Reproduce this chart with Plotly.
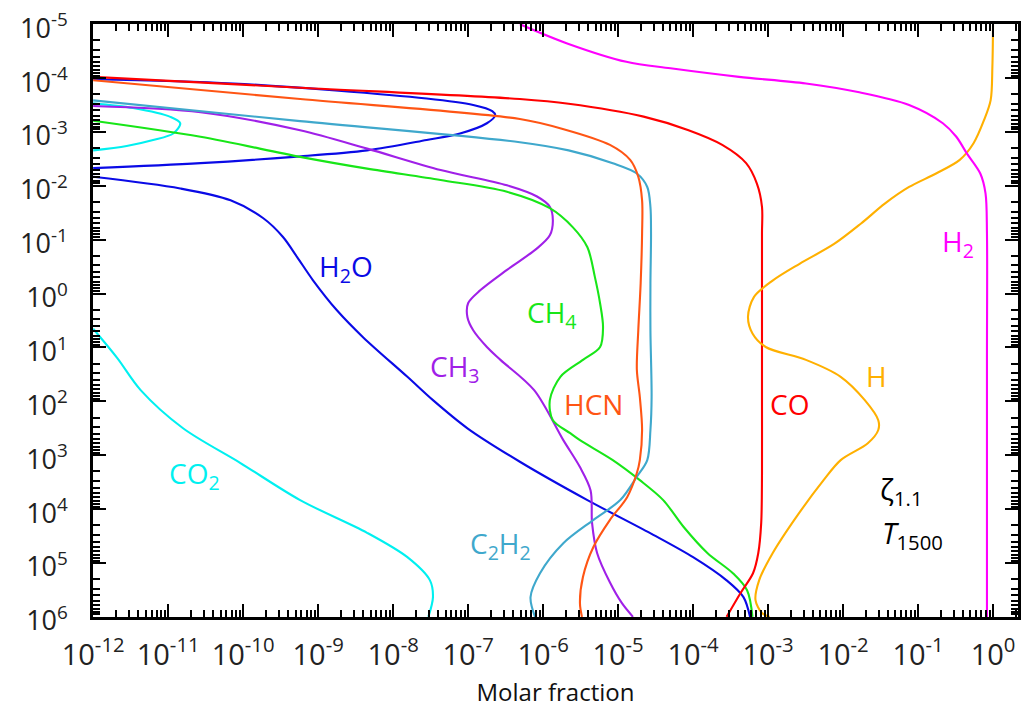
import plotly.graph_objects as go

# ---- data: molar fraction (x) vs pressure (y) ----
co_x = [1e-12, 5.75e-10, 4.9e-7, 2.19e-6, 2.19e-5, 8.7e-5, 2.45e-4, 5.1e-4, 7.1e-4, 8.3e-4,
        8.3e-4, 8.3e-4, 8.3e-4, 8.3e-4, 8.1e-4, 7.4e-4, 6.3e-4, 4.3e-4, 2.8e-4]
co_p = [9.5e-5, 1.51e-4, 2.45e-4, 3.0e-4, 5.2e-4, 9.3e-4, 1.74e-3, 3.8e-3, 9.1e-3, 2.45e-2,
        7.6e-2, 1.32, 126, 2190, 1.82e4, 6.6e4, 1.55e5, 3.6e5, 1e6]

hcn_x = [1e-12, 5.75e-10, 4.9e-7, 1.78e-6, 7.8e-6, 1.45e-5, 1.86e-5, 2.09e-5, 2.09e-5, 2.0e-5,
         1.86e-5, 1.78e-5, 1.95e-5, 2.09e-5, 1.95e-5, 1.78e-5, 1.32e-5, 7.8e-6, 4.7e-6, 3.4e-6,
         3.1e-6, 3.3e-6]
hcn_p = [1.1e-4, 2.45e-4, 5.75e-4, 8.7e-4, 1.74e-3, 3.3e-3, 6.8e-3, 1.86e-2, 7.6e-2, 0.65,
         4.8, 26, 83, 340, 1230, 2140, 6000, 1.58e4, 5.0e4, 1.82e5,
         5.5e5, 1e6]

c2h2_x = [1e-12, 5.75e-10, 4.9e-7, 2.19e-6, 8.5e-6, 1.78e-5, 2.45e-5, 2.7e-5, 2.75e-5, 2.7e-5,
          2.7e-5, 2.8e-5, 2.7e-5, 2.45e-5, 1.78e-5, 1.07e-5, 4.7e-6, 1.86e-6, 9.1e-7, 6.8e-7, 7.8e-7]
c2h2_p = [2.6e-4, 6.3e-4, 1.55e-3, 2.2e-3, 3.8e-3, 5.9e-3, 1.05e-2, 2.45e-2, 7.6e-2, 0.65,
          4.8, 83, 340, 1230, 2500, 6800, 1.58e4, 4.3e4, 1.55e5, 4.3e5, 1e6]

h2o_x = [1e-12, 7.4e-11, 2.8e-8, 1.17e-7, 2.1e-7, 2.3e-7, 1.78e-7, 7.8e-8, 2.8e-8, 4.5e-9,
         4.7e-10, 2.7e-11, 1e-12, None,
         1e-12, 1.45e-11, 6.8e-11, 1.86e-10, 3.4e-10, 5.25e-10, 8.5e-10, 1.78e-9, 4.0e-9, 1.55e-8,
         3.4e-8, 9.8e-8, 4.9e-7, 3.9e-6, 2.95e-5, 1.0e-4, 2.8e-4, 4.7e-4, 5.75e-4]
h2o_p = [1.05e-4, 1.26e-4, 2.4e-4, 3.16e-4, 4.1e-4, 4.9e-4, 6.9e-4, 1.07e-3, 1.41e-3, 2.2e-3,
         2.9e-3, 3.8e-3, 4.7e-3, None,
         6.8e-3, 1.12e-2, 1.86e-2, 4.0e-2, 8.9e-2, 0.21, 0.56, 2.04, 6.5, 35,
         95, 316, 1320, 6800, 3.0e4, 7.8e4, 2.1e5, 4.3e5, 1e6]

ch3_x = [1e-12, 2.7e-11, 5.75e-10, 4.5e-9, 4.3e-8, 3.3e-7, 8.3e-7, 1.23e-6, 1.35e-6, 1.23e-6,
         8.3e-7, 3.3e-7, 1.45e-7, 1.0e-7, 9.8e-8, 1.17e-7, 1.78e-7, 2.7e-7, 7.6e-7, 1.86e-6,
         3.1e-6, 4.3e-6, 4.5e-6, 5.25e-6, 7.8e-6, 1.12e-5, 1.58e-5]
ch3_p = [3.3e-4, 4.3e-4, 9.3e-4, 2.04e-3, 5.1e-3, 9.8e-3, 1.58e-2, 2.45e-2, 4.4e-2, 8.3e-2,
         0.145, 0.363, 0.87, 1.51, 2.75, 4.8, 9.8, 17, 62, 525,
         1660, 4500, 1.82e4, 6.5e4, 2.3e5, 5.5e5, 1e6]

ch4_x = [1e-12, 2.7e-11, 5.75e-10, 4.5e-9, 4.3e-8, 3.3e-7, 1.23e-6, 2.5e-6, 3.9e-6, 4.9e-6,
         5.75e-6, 6.3e-6, 5.75e-6, 3.4e-6, 1.7e-6, 1.23e-6, 1.35e-6, 2.3e-6, 3.1e-6, 8.5e-6,
         1.95e-5, 4.0e-5, 7.4e-5, 1.55e-4, 3.4e-4, 5.25e-4, 6.2e-4]
ch4_p = [6.2e-4, 1.23e-3, 2.9e-3, 4.8e-3, 7.8e-3, 1.29e-2, 2.6e-2, 5.9e-2, 0.138, 0.49,
         1.51, 4.2, 9.8, 17, 35, 95, 224, 390, 525, 1230,
         2900, 6800, 2.1e4, 6.5e4, 1.55e5, 3.2e5, 1e6]

co2_x = [1e-12, 3.4e-12, 1.07e-11, 1.45e-11, 1.17e-11, 6.3e-12, 2.8e-12, 1e-12, None,
         1e-12, 2.1e-12, 4.3e-12, 1.58e-11, 9.1e-11, 5.75e-10, 4.5e-9, 1.55e-8, 3.1e-8, 3.4e-8, 2.95e-8]
co2_p = [2.95e-4, 3.6e-4, 5.25e-4, 6.9e-4, 1.07e-3, 1.41e-3, 1.82e-3, 2.2e-3, None,
         4.5, 15.8, 62, 316, 1380, 6800, 2.75e4, 7.8e4, 2.1e5, 4.3e5, 1e6]

h_x = [1.0, 0.98, 0.93, 0.76, 0.55, 0.36, 0.174, 7.6e-2, 3.6e-2, 1.74e-2,
       7.6e-3, 2.63e-3, 1.15e-3, 6.5e-4, 5.4e-4, 6.2e-4, 9.3e-4, 3.2e-3, 9.3e-3, 1.95e-2,
       2.95e-2, 2.95e-2, 2.14e-2, 9.3e-3, 5.5e-3, 2.4e-3, 1.15e-3, 7.6e-4, 6.8e-4, 8.3e-4, 1.05e-3]
h_p = [1e-5, 6.2e-5, 2.57e-4, 6.0e-4, 1.62e-3, 3.3e-3, 5.9e-3, 1.05e-2, 2.14e-2, 5.0e-2,
       0.12, 0.28, 0.575, 1.15, 2.7, 5.5, 9.8, 17, 35, 95,
       224, 340, 600, 1230, 2900, 1.38e4, 6.6e4, 2.1e5, 4.9e5, 8.5e5, 1e6]

h2_x = [4.9e-7, 2.14e-6, 1.29e-5, 5.0e-5, 4.1e-4, 3.2e-3, 1.58e-2, 7.6e-2, 0.214, 0.324,
        0.447, 0.676, 0.794, 0.83, 0.83, 0.83]
h2_p = [1e-5, 2.3e-5, 5.0e-5, 6.6e-5, 9.5e-5, 1.26e-4, 1.82e-4, 3.16e-4, 6.9e-4, 1.23e-3,
        2.5e-3, 5.9e-3, 1.38e-2, 7.6e-2, 17, 1e6]

x_exponents = [-12, -11, -10, -9, -8, -7, -6, -5, -4, -3, -2, -1, 0]
y_exponents = [-5, -4, -3, -2, -1, 0, 1, 2, 3, 4, 5, 6]

series = [
    ("CO2", co2_x, co2_p, "#00F0F0"),
    ("H2O", h2o_x, h2o_p, "#0A0AE6"),
    ("CH3", ch3_x, ch3_p, "#A020E8"),
    ("CH4", ch4_x, ch4_p, "#18E618"),
    ("C2H2", c2h2_x, c2h2_p, "#3FA8CC"),
    ("HCN", hcn_x, hcn_p, "#FF5514"),
    ("CO", co_x, co_p, "#FF0000"),
    ("H", h_x, h_p, "#FFB000"),
    ("H2", h2_x, h2_p, "#FF00FF"),
]

fig = go.Figure()
for name, xs, ps, col in series:
    fig.add_trace(go.Scatter(x=xs, y=ps, mode="lines", name=name,
                             line=dict(color=col, width=2.1, shape="spline", smoothing=0.9),
                             connectgaps=False))

FONT = "Open Sans"
labels = [
    ("H<sub>2</sub>O", -8.63, -0.47, "#0A0AE6"),
    ("CH<sub>3</sub>", -7.17, 1.38, "#A020E8"),
    ("CH<sub>4</sub>", -5.88, 0.38, "#18E618"),
    ("HCN", -5.33, 2.05, "#FF5514"),
    ("CO", -2.72, 2.05, "#FF0000"),
    ("H", -1.56, 1.53, "#FFB000"),
    ("H<sub>2</sub>", -0.47, -0.94, "#FF00FF"),
    ("CO<sub>2</sub>", -10.65, 3.37, "#00F0F0"),
    ("C<sub>2</sub>H<sub>2</sub>", -6.57, 4.67, "#3FA8CC"),
]
for txt, lx, ly, col in labels:
    fig.add_annotation(x=lx, y=ly, xref="x", yref="y", text=txt, showarrow=False,
                       font=dict(family=FONT, size=28, color=col),
                       xanchor="center", yanchor="middle")
fig.add_annotation(x=-1.53, y=3.65, xref="x", yref="y", text="ζ<sub>1.1</sub>", showarrow=False,
                   font=dict(family=FONT, size=29, color="black"), xanchor="left", yanchor="middle")
fig.add_annotation(x=-1.51, y=4.48, xref="x", yref="y", text="<i>T</i><sub>1500</sub>", showarrow=False,
                   font=dict(family=FONT, size=29, color="black"), xanchor="left", yanchor="middle")

axis_common = dict(type="log", showgrid=False, zeroline=False, showline=True, linecolor="black",
                   linewidth=2.5, mirror="allticks", ticks="inside", ticklen=13, tickwidth=2,
                   tickcolor="black", automargin=False, ticklabeloverflow="allow",
                   minor=dict(ticks="inside", ticklen=7, tickwidth=1.5, tickcolor="black",
                              dtick="D1", showgrid=False))

fig.update_xaxes(**axis_common, range=[-12.002, 0.333], tickmode="array",
                 tickvals=[10.0 ** e for e in x_exponents],
                 ticktext=[f"10<sup>{e}</sup>" for e in x_exponents],
                 tickfont=dict(family=FONT, size=29, color="#222"),
                 ticklabelstandoff=10,
                 title=dict(text="Molar fraction", font=dict(family=FONT, size=24, color="#111"),
                            standoff=16))
fig.update_yaxes(**axis_common, range=[6.002, -5.003], tickmode="array",
                 tickvals=[10.0 ** e for e in y_exponents],
                 ticktext=[f"10<sup>{e}</sup>" for e in y_exponents],
                 tickfont=dict(family=FONT, size=27, color="#222"),
                 ticklabelstandoff=17, ticklabelshift=-4)

# page body adds an 8 px offset, so the figure is sized to fit the window
fig.update_layout(width=1018, height=700, margin=dict(l=85, r=8, t=16, b=91),
                  plot_bgcolor="white", paper_bgcolor="white", showlegend=False)

fig.write_html("out.html")
